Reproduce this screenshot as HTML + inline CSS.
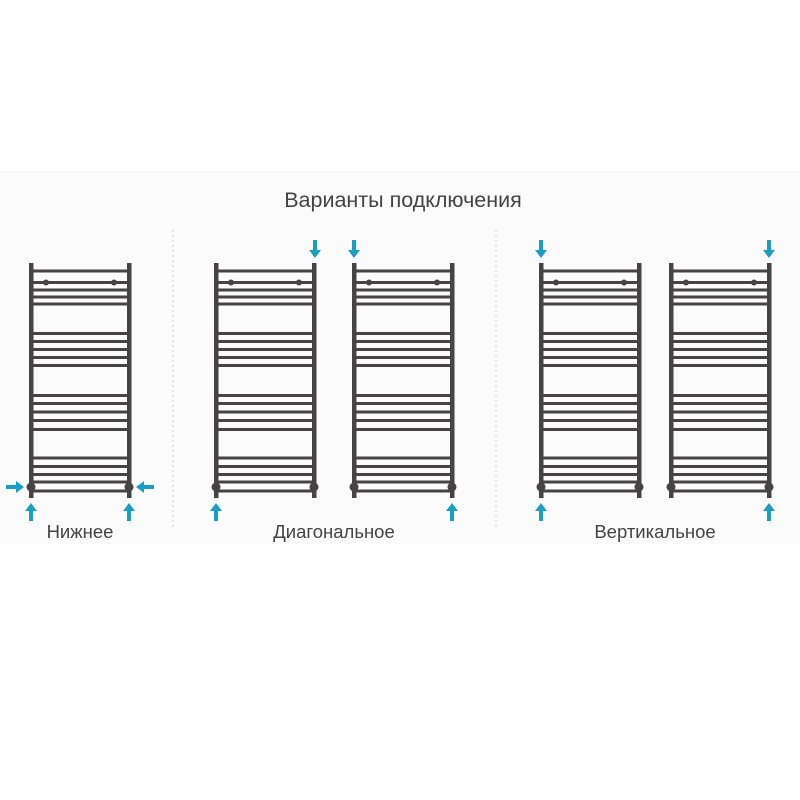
<!DOCTYPE html>
<html><head><meta charset="utf-8"><style>
html,body{margin:0;padding:0;background:#fff;width:800px;height:800px;overflow:hidden}
</style></head><body>
<svg width="800" height="800" viewBox="0 0 800 800" xmlns="http://www.w3.org/2000/svg">
<defs>
<g id="h">
  <rect x="-2" y="263" width="4.5" height="235" fill="#454344"/>
  <rect x="96" y="263" width="4.5" height="235" fill="#454344"/>
  <g fill="#454344">
    <rect x="0" y="269.5" width="98" height="3"/>
    <rect x="0" y="281" width="98" height="3"/>
    <rect x="0" y="288.5" width="98" height="3"/>
    <rect x="0" y="295.5" width="98" height="3"/>
    <rect x="0" y="302.5" width="98" height="3"/>
    <rect x="0" y="332" width="98" height="3"/>
    <rect x="0" y="340" width="98" height="3"/>
    <rect x="0" y="348" width="98" height="3"/>
    <rect x="0" y="356" width="98" height="3"/>
    <rect x="0" y="364" width="98" height="3"/>
    <rect x="0" y="394" width="98" height="3"/>
    <rect x="0" y="402" width="98" height="3"/>
    <rect x="0" y="410.5" width="98" height="3"/>
    <rect x="0" y="419" width="98" height="3"/>
    <rect x="0" y="428" width="98" height="3"/>
    <rect x="0" y="456.5" width="98" height="3"/>
    <rect x="0" y="465" width="98" height="3"/>
    <rect x="0" y="473" width="98" height="3"/>
    <rect x="0" y="480.5" width="98" height="3"/>
    <rect x="0" y="489.5" width="98" height="3"/>
    <circle cx="15" cy="282.5" r="3"/>
    <circle cx="83" cy="282.5" r="3"/>
    <circle cx="0" cy="487" r="4.5"/>
    <circle cx="98" cy="487" r="4.5"/>
  </g>
</g>
<g id="up" fill="#1a9fc4"><polygon points="0,0 6,8 2,8 2,18 -2,18 -2,8 -6,8"/></g>
<g id="dn" fill="#1a9fc4"><polygon points="0,0 6,-8 2,-8 2,-18 -2,-18 -2,-8 -6,-8"/></g>
</defs>
<rect x="0" y="170" width="800" height="375" fill="#fbfbfb"/>
<text x="403" y="207" text-anchor="middle" font-family="Liberation Sans, sans-serif" font-size="21.5" fill="#444">Варианты подключения</text>
<line x1="173" y1="230" x2="173" y2="530" stroke="#ccc" stroke-width="1" stroke-dasharray="2,3"/>
<line x1="496" y1="230" x2="496" y2="530" stroke="#ccc" stroke-width="1" stroke-dasharray="2,3"/>
<use href="#h" transform="translate(31,0)"/>
<use href="#h" transform="translate(216,0)"/>
<use href="#h" transform="translate(354,0)"/>
<use href="#h" transform="translate(541,0)"/>
<use href="#h" transform="translate(671,0)"/>
<use href="#up" transform="translate(31,503)"/>
<use href="#up" transform="translate(129,503)"/>
<use href="#up" transform="translate(216,503)"/>
<use href="#up" transform="translate(452,503)"/>
<use href="#up" transform="translate(541,503)"/>
<use href="#up" transform="translate(769,503)"/>
<use href="#dn" transform="translate(315,258)"/>
<use href="#dn" transform="translate(354,258)"/>
<use href="#dn" transform="translate(541,258)"/>
<use href="#dn" transform="translate(769,258)"/>
<use href="#up" transform="translate(24,487) rotate(90)"/>
<use href="#up" transform="translate(136,487) rotate(-90)"/>
<g font-family="Liberation Sans, sans-serif" font-size="18.5" fill="#444" text-anchor="middle">
<text x="80" y="538">Нижнее</text>
<text x="334" y="538">Диагональное</text>
<text x="655" y="538">Вертикальное</text>
</g>
</svg>
</body></html>
